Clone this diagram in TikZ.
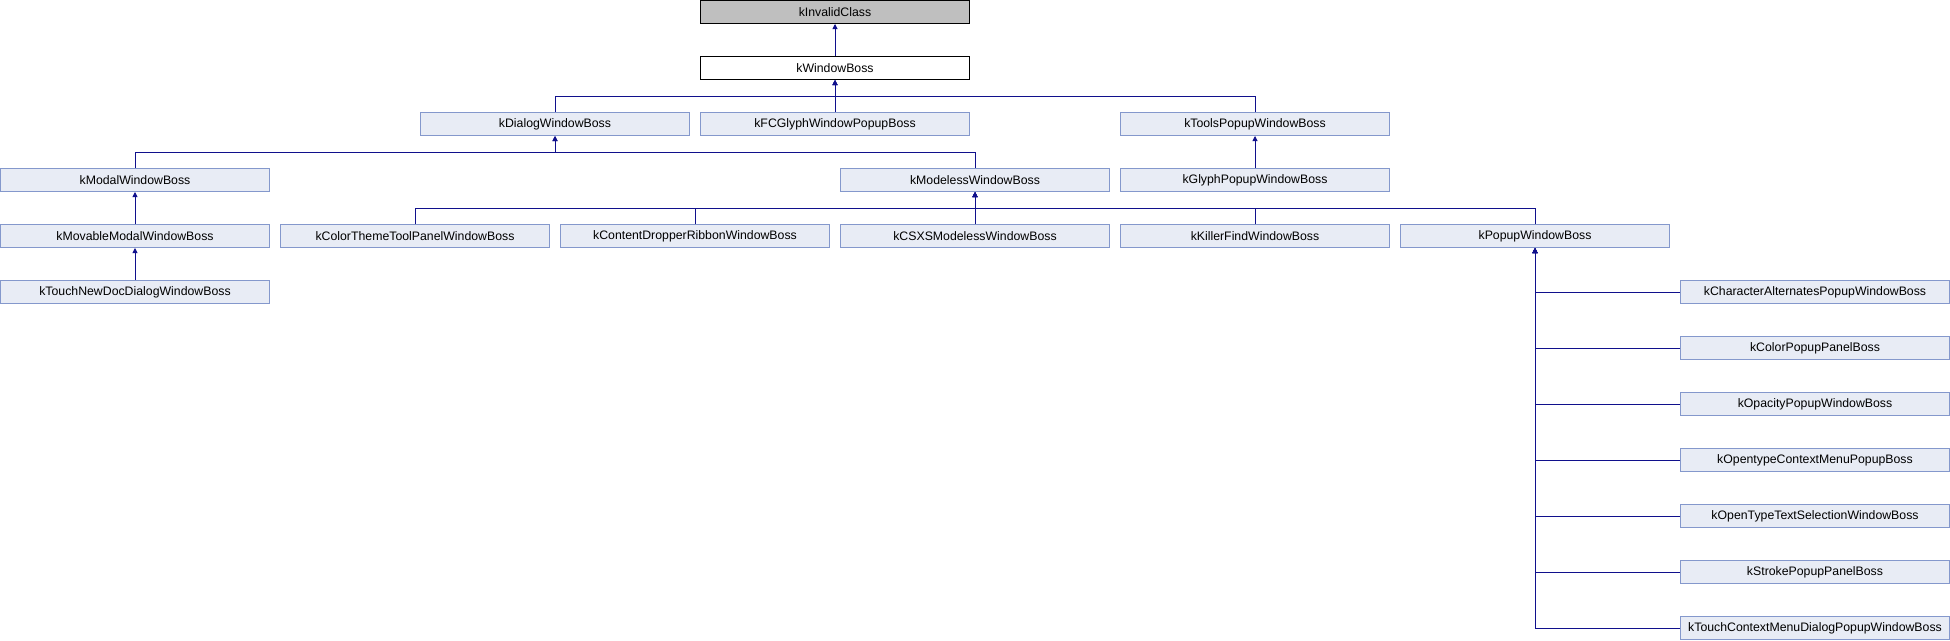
\documentclass[tikz,border=0pt]{standalone}
\usepackage{fontspec}
\setmainfont{Liberation Sans}
\usetikzlibrary{arrows.meta}
\definecolor{boxfill}{RGB}{232,236,245}
\definecolor{boxline}{RGB}{132,152,204}
\definecolor{edgeblue}{RGB}{16,16,140}
\definecolor{rootgray}{RGB}{191,191,191}
\tikzset{
    cls/.style={draw=boxline, fill=boxfill, line width=1pt, minimum width=269pt,
        minimum height=23pt, inner sep=0pt, font=\fontsize{12.3}{14}\selectfont},
    rootcls/.style={cls, draw=black, fill=rootgray},
    topcls/.style={cls, draw=black, fill=white},
    edge/.style={->, edgeblue, line width=0.9pt}
}
\begin{document}
\begin{tikzpicture}[x=1pt, y=1pt, >={Triangle[length=5pt, width=5pt]}]
        \useasboundingbox (0,0) rectangle (1950,-640);

        % Radice
        \node[rootcls] (invalid) at (835,-12) {kInvalidClass};
        \node[topcls] (window) at (835,-68) {kWindowBoss};

        % Livello 2
        \node[cls] (dialog) at (555,-124) {kDialogWindowBoss};
        \node[cls] (fcglyph) at (835,-124) {kFCGlyphWindowPopupBoss};
        \node[cls] (tools) at (1255,-124) {kToolsPopupWindowBoss};

        % Livello 3
        \node[cls] (modal) at (135,-180) {kModalWindowBoss};
        \node[cls] (modeless) at (975,-180) {kModelessWindowBoss};
        \node[cls] (glyph) at (1255,-180) {kGlyphPopupWindowBoss};

        % Livello 4
        \node[cls] (movable) at (135,-236) {kMovableModalWindowBoss};
        \node[cls] (colortheme) at (415,-236) {kColorThemeToolPanelWindowBoss};
        \node[cls] (dropper) at (695,-236) {kContentDropperRibbonWindowBoss};
        \node[cls] (csxs) at (975,-236) {kCSXSModelessWindowBoss};
        \node[cls] (killer) at (1255,-236) {kKillerFindWindowBoss};
        \node[cls] (popup) at (1535,-236) {kPopupWindowBoss};

        \node[cls] (touchnew) at (135,-292) {kTouchNewDocDialogWindowBoss};

        % Figli di kPopupWindowBoss
        \node[cls] (charalt) at (1815,-292) {kCharacterAlternatesPopupWindowBoss};
        \node[cls] (colorpopup) at (1815,-348) {kColorPopupPanelBoss};
        \node[cls] (opacity) at (1815,-404) {kOpacityPopupWindowBoss};
        \node[cls] (otcontext) at (1815,-460) {kOpentypeContextMenuPopupBoss};
        \node[cls] (ottext) at (1815,-516) {kOpenTypeTextSelectionWindowBoss};
        \node[cls] (stroke) at (1815,-572) {kStrokePopupPanelBoss};
        \node[cls] (touchctx) at (1815,-628) {kTouchContextMenuDialogPopupWindowBoss};

        % Frecce
        \draw[edge] (window.north) -- (invalid.south);
        \draw[edge] (dialog.north) |- ++(0,16) -| (window.south);
        \draw[edge] (fcglyph.north) -- (window.south);
        \draw[edge] (tools.north) |- ++(0,16) -| (window.south);

        \draw[edge] (modal.north) |- ++(0,16) -| (dialog.south);
        \draw[edge] (modeless.north) |- ++(0,16) -| (dialog.south);
        \draw[edge] (glyph.north) -- (tools.south);

        \draw[edge] (movable.north) -- (modal.south);
        \draw[edge] (touchnew.north) -- (movable.south);
        \foreach \n in {colortheme, dropper, csxs, killer, popup}
            \draw[edge] (\n.north) |- ++(0,16) -| (modeless.south);

        \foreach \n in {charalt, colorpopup, opacity, otcontext, ottext, stroke, touchctx}
            \draw[edge] (\n.west) -| (popup.south);
    \end{tikzpicture}
\end{document}
